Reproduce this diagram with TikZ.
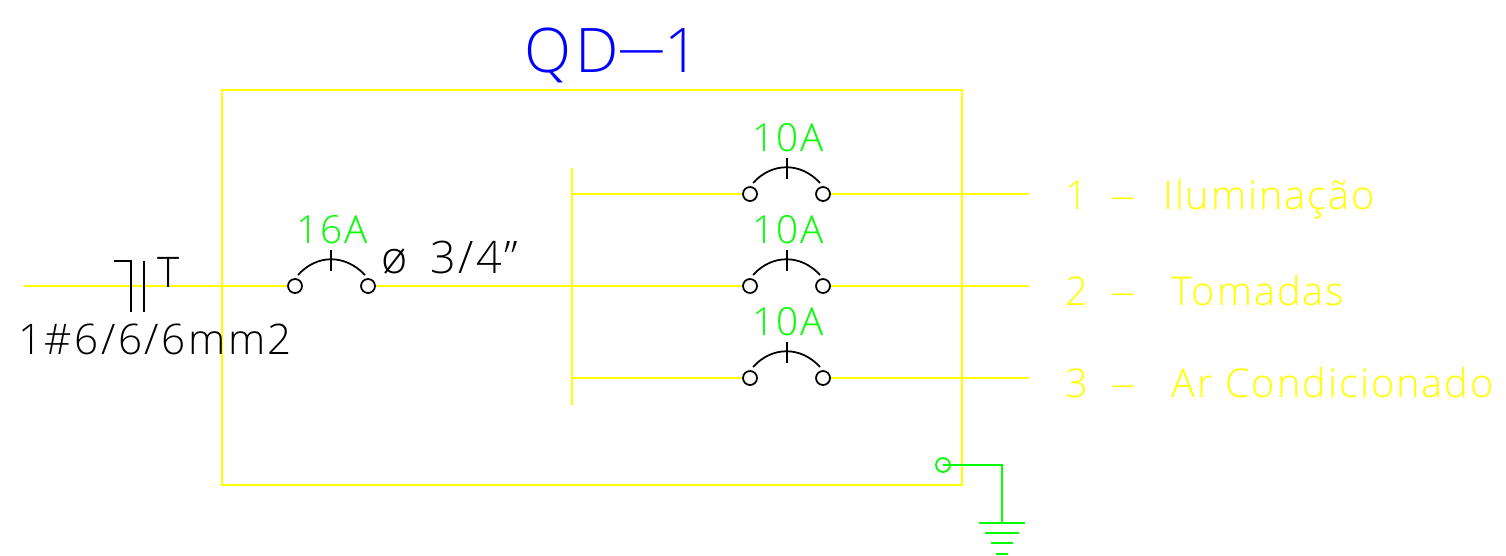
\documentclass[tikz,border=0pt]{standalone}
\usepackage{fontspec}
\usepackage{tikz}
\newfontfamily\cadfont[LetterSpace=6]{Open Sans Light}
\newfontfamily\widefont[LetterSpace=5]{Open Sans Light}
\definecolor{cadyellow}{RGB}{255,255,0}
\definecolor{cadgreen}{RGB}{0,255,0}
\definecolor{cadblue}{RGB}{0,0,255}
\newcommand{\longdash}[1]{\scalebox{#1}[1]{–}}
\tikzset{
  wire/.style={draw=cadyellow, line width=1.1pt},
  earth/.style={draw=cadgreen, line width=1.1pt},
  ink/.style={draw=black, line width=1pt},
  pole/.style={circle, draw=black, fill=white, line width=1pt, inner sep=0pt, minimum size=0.28cm},
  amps/.style={text=cadgreen, font=\cadfont\fontsize{22}{22}\selectfont, inner sep=0pt, anchor=base},
  inktext/.style={text=black, font=\cadfont\fontsize{24}{24}\selectfont, inner sep=0pt},
  circuit/.style={text=cadyellow, font=\widefont\fontsize{22.6}{22.6}\selectfont, inner sep=0pt, anchor=west},
}
\begin{document}
\begin{tikzpicture}[x=0.02cm, y=-0.02cm]

\useasboundingbox[fill=white] (0, 0) rectangle (1506, 555);

\node[text=cadblue, font=\cadfont\fontsize{35}{35}\selectfont, inner sep=0pt, anchor=base] (title) at (612, 72) {QD\hspace{-1.5pt}\raisebox{2pt}{\longdash{1.65}}\hspace{-1.5pt}1};

%Panel
\coordinate (boxnw) at (222, 90);
\coordinate (boxse) at (962, 485);
\draw[wire] (boxnw) rectangle (boxse);

%Bus
\coordinate (bustop) at (572, 168);
\coordinate (busbot) at (572, 405);
\draw[wire] (bustop) -- (busbot);
\coordinate (busa) at (572, 194);
\coordinate (busc) at (572, 378);

%Main breaker
\coordinate (feed) at (24, 286);
\node[pole] (maina) at (295, 286) {};
\node[pole] (mainb) at (368, 286) {};
\coordinate (mainarca) at (298, 275);
\coordinate (mainarcb) at (365, 275);
\coordinate (maintop) at (331, 250);
\coordinate (mainbot) at (331, 271);
\draw[ink] (mainarca) .. controls (317, 254) and (345, 254) .. (mainarcb);
\draw[ink] (maintop) -- (mainbot);
\node[amps] (mainamps) at (332, 243) {16A};

%Branch breakers
\node[pole] (oa) at (750, 194) {};
\node[pole] (ob) at (823, 194) {};
\node[pole] (ta) at (750, 286) {};
\node[pole] (tb) at (823, 286) {};
\node[pole] (aa) at (750, 378) {};
\node[pole] (ab) at (823, 378) {};
\coordinate (oend) at (1029, 194);
\coordinate (tend) at (1029, 286);
\coordinate (aend) at (1029, 378);

\draw[wire] (feed) -- (maina);
\draw[wire] (mainb) -- (ta);
\draw[wire] (busa) -- (oa);
\draw[wire] (busc) -- (aa);
\draw[wire] (ob) -- (oend);
\draw[wire] (tb) -- (tend);
\draw[wire] (ab) -- (aend);

\foreach \br/\y in {o/194, t/286, a/378} {
  \coordinate (\br arca) at (753, \y-11);
  \coordinate (\br arcb) at (820, \y-11);
  \coordinate (\br top) at (787, \y-36);
  \coordinate (\br bot) at (787, \y-15);
  \draw[ink] (\br arca) .. controls (772, \y-32) and (801, \y-32) .. (\br arcb);
  \draw[ink] (\br top) -- (\br bot);
  \node[amps] (\br amps) at (788, \y-43) {10A};
}

%Feeder marks
\coordinate (marka) at (114, 261);
\coordinate (markb) at (131, 261);
\coordinate (markc) at (131, 312);
\coordinate (markd) at (144, 261);
\coordinate (marke) at (144, 312);
\draw[ink] (marka) -- (markb) -- (markc);
\draw[ink] (markd) -- (marke);
\node[inktext, anchor=base] (earthmark) at (169, 287) {T};
\node[inktext, anchor=base west] (cable) at (18, 354) {1\#6/6/6mm2};
\node[inktext, anchor=base west, font=\cadfont\fontsize{25.5}{25.5}\selectfont] (conduit) at (381, 273) {\char"00F8\hspace{13pt}3/4”};

%Circuit names
\node[circuit] (olabel) at (1065, 199) {1\hspace{13pt}\longdash{1.3}\hspace{15pt}Iluminação};
\node[circuit] (tlabel) at (1065, 291) {2\hspace{13pt}\longdash{1.3}\hspace{20pt}Tomadas};
\node[circuit] (alabel) at (1065, 383) {3\hspace{13pt}\longdash{1.3}\hspace{20pt}Ar Condicionado};

%Ground
\node[circle, draw=cadgreen, line width=1pt, inner sep=0pt, minimum size=0.28cm] (gnd) at (943, 465) {};
\coordinate (gndbend) at (1002, 465);
\coordinate (gndbar) at (1002, 523);
\draw[earth] (gnd.center) -- (gndbend) -- (gndbar);
\foreach \y/\w in {523/23, 533/17, 543/11, 554/6} {
  \coordinate (barl\y) at (1002-\w, \y);
  \coordinate (barr\y) at (1002+\w, \y);
  \draw[earth] (barl\y) -- (barr\y);
}

\end{tikzpicture}
\end{document}
